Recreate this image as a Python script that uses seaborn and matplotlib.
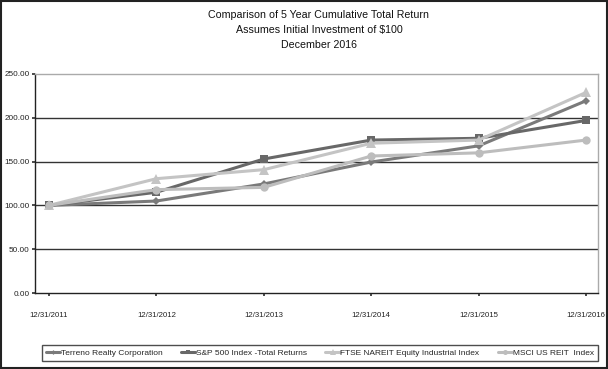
import matplotlib
matplotlib.use("Agg")
import matplotlib.pyplot as plt
import seaborn as sns
import pandas as pd

dates = ["12/31/2011", "12/31/2012", "12/31/2013", "12/31/2014", "12/31/2015", "12/31/2016"]
terreno = [100.0, 105.0, 124.5, 149.5, 168.0, 219.5]
sp500 = [100.0, 115.0, 153.0, 174.6, 176.6, 197.0]
ftse = [100.0, 130.5, 140.8, 171.0, 174.6, 229.0]
msci = [100.0, 118.0, 120.6, 156.4, 160.0, 174.6]
series_names = ["Terreno Realty Corporation", "S&P 500 Index -Total Returns",
                "FTSE NAREIT Equity Industrial Index", "MSCI US REIT  Index"]
yticks = [0, 50, 100, 150, 200, 250]
title_lines = ["Comparison of 5 Year Cumulative Total Return",
               "Assumes Initial Investment of $100",
               "December 2016"]

sns.set_theme(style="white")
plt.rcParams["font.family"] = ["Liberation Sans", "DejaVu Sans"]

rows = []
for name, vals in zip(series_names, [terreno, sp500, ftse, msci]):
    for i, (d, v) in enumerate(zip(dates, vals)):
        rows.append({"idx": i, "date": d, "value": v, "series": name})
df = pd.DataFrame(rows)

colors = {series_names[0]: "#7a7a7a", series_names[1]: "#686868",
          series_names[2]: "#c4c4c4", series_names[3]: "#bdbdbd"}
markers = {series_names[0]: "D", series_names[1]: "s",
           series_names[2]: "^", series_names[3]: "o"}
sizes = {series_names[0]: 4, series_names[1]: 6, series_names[2]: 7, series_names[3]: 6}

W, H = 608, 369
fig = plt.figure(figsize=(W / 100, H / 100), dpi=100)
ax = fig.add_axes([35 / W, 1 - 293 / H, (598 - 35) / W, (293 - 74) / H])

for name in series_names:
    sub = df[df.series == name]
    sns.lineplot(data=sub, x="idx", y="value", ax=ax, color=colors[name],
                 marker=markers[name], markersize=sizes[name], linewidth=2.2,
                 markeredgewidth=0, label=name, legend=False)

ax.set_xlim(-0.13, 5.11)
ax.set_ylim(0, 250)
ax.set_yticks(yticks)
ax.set_yticklabels([f"{v:.2f}" for v in yticks], fontsize=5.9, color="#222222")
ax.set_xticks(range(len(dates)))
ax.set_xticklabels(dates, fontsize=5.6, color="#222222")
ax.tick_params(axis="x", pad=11.5, length=2, direction="out", bottom=True, color="#333333")
ax.tick_params(axis="y", pad=2, length=2, direction="out", left=True, color="#333333")
ax.set_xlabel("")
ax.set_ylabel("")
for y in [50, 100, 150, 200]:
    ax.axhline(y, color="#333333", linewidth=1.0, zorder=0.5)
for s in ["left", "bottom"]:
    ax.spines[s].set_color("#222222")
    ax.spines[s].set_linewidth(1.0)
for s in ["top", "right"]:
    ax.spines[s].set_color("#aaaaaa")
    ax.spines[s].set_linewidth(1.0)

for line, ypix in zip(title_lines, [15.5, 30, 44.5]):
    fig.text(319 / W, 1 - ypix / H, line, ha="center", va="center", fontsize=7.7, color="#111111")

handles, labels = ax.get_legend_handles_labels()
leg = fig.legend(handles, labels, loc="center", ncol=4, bbox_to_anchor=(320 / W, 1 - 353 / H),
                 fontsize=6.0, frameon=True, fancybox=False, edgecolor="#222222",
                 borderpad=0.45, columnspacing=2.2, handlelength=1.7, handletextpad=0.1,
                 borderaxespad=0, markerscale=0.6)
leg.get_frame().set_linewidth(1.0)

border = plt.Rectangle((0.001, 0.002), 0.997, 0.996, transform=fig.transFigure, fill=False,
                       edgecolor="#222222", linewidth=1.5)
fig.patches.append(border)

fig.savefig("out.png", dpi=100)
